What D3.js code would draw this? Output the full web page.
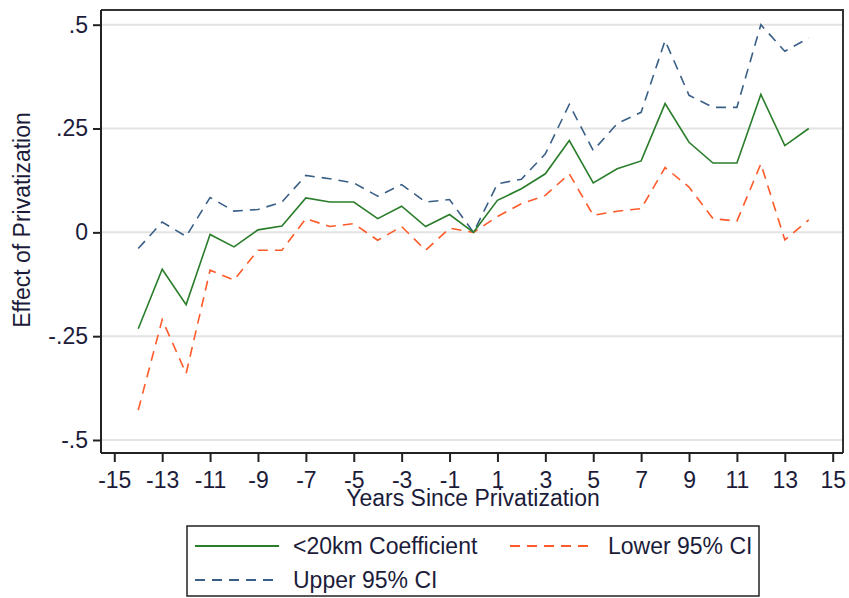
<!DOCTYPE html>
<html lang="en">
<head>
    <meta charset="UTF-8">
    <title>Effect of Privatization</title>
    <script src="https://d3js.org/d3.v7.min.js"></script>
    <style>
        body { margin: 0; background: #fff; }
        svg { display: block; font-family: "Liberation Sans", Arial, sans-serif; }
        .grid line { stroke: #e3e3e3; stroke-width: 2px; }
        .axis path, .axis line { stroke: #222; stroke-width: 2px; }
        .axis text { font-size: 23px; fill: #1c1c3a; }
        .label { font-size: 23px; fill: #1c1c3a; }
    </style>
</head>
<body>
    <div id="chart"></div>
    <script>
        const years = [-14, -13, -12, -11, -10, -9, -8, -7, -6, -5, -4, -3, -2, -1, 0,
                       1, 2, 3, 4, 5, 6, 7, 8, 9, 10, 11, 12, 13, 14];
        const coef = [-0.232, -0.089, -0.174, -0.005, -0.035, 0.006, 0.015, 0.083, 0.073, 0.073,
                      0.033, 0.063, 0.014, 0.043, 0.0,
                      0.077, 0.105, 0.141, 0.221, 0.119, 0.153, 0.172, 0.310, 0.217, 0.167,
                      0.167, 0.332, 0.209, 0.250];
        const lower = [-0.428, -0.210, -0.340, -0.091, -0.115, -0.043, -0.043, 0.033, 0.014, 0.021,
                       -0.019, 0.014, -0.043, 0.010, 0.0,
                       0.038, 0.069, 0.089, 0.141, 0.041, 0.051, 0.057, 0.156, 0.109, 0.033,
                       0.027, 0.165, -0.018, 0.030];
        const upper = [-0.039, 0.025, -0.010, 0.084, 0.051, 0.055, 0.073, 0.137, 0.129, 0.119,
                       0.087, 0.115, 0.073, 0.079, 0.0,
                       0.117, 0.128, 0.189, 0.308, 0.197, 0.262, 0.289, 0.462, 0.330, 0.301,
                       0.301, 0.500, 0.436, 0.468];
        const xTicks = [-15, -13, -11, -9, -7, -5, -3, -1, 1, 3, 5, 7, 9, 11, 13, 15];
        const yTicks = [-0.5, -0.25, 0, 0.25, 0.5];
        const yTickLabels = ["-.5", "-.25", "0", ".25", ".5"];

        const width = 849, height = 598;
        const plot = {left: 101, right: 843, top: 10, bottom: 453};

        const svg = d3.select("#chart").append("svg")
            .attr("width", width)
            .attr("height", height);

        const x = d3.scaleLinear().domain([-15.555, 15.43]).range([plot.left, plot.right]);
        const y = d3.scaleLinear().domain([-0.5313, 0.5354]).range([plot.bottom, plot.top]);

        // horizontal grid
        svg.append("g").attr("class", "grid")
            .selectAll("line").data(yTicks).enter().append("line")
            .attr("x1", plot.left).attr("x2", plot.right)
            .attr("y1", d => y(d)).attr("y2", d => y(d));

        // frame (top and right)
        svg.append("path")
            .attr("d", `M${plot.left},${plot.top}H${plot.right}V${plot.bottom}`)
            .attr("fill", "none").attr("stroke", "#333").attr("stroke-width", 2);

        const series = [
            {name: "<20km Coefficient", values: coef, color: "#2a7d2a", dash: null},
            {name: "Lower 95% CI", values: lower, color: "#ff5a2a", dash: "10,7"},
            {name: "Upper 95% CI", values: upper, color: "#3a5f87", dash: "10,7"}
        ];

        const line = d3.line()
            .x((d, i) => x(years[i]))
            .y(d => y(d));

        // draw CIs first, coefficient on top
        [series[2], series[1], series[0]].forEach(s => {
            svg.append("path")
                .datum(s.values)
                .attr("fill", "none")
                .attr("stroke", s.color)
                .attr("stroke-width", 1.6)
                .attr("stroke-dasharray", s.dash)
                .attr("d", line);
        });

        // axes
        svg.append("g").attr("class", "axis")
            .attr("transform", `translate(${plot.left},0)`)
            .call(d3.axisLeft(y).tickValues(yTicks).tickSize(8).tickPadding(5)
                .tickFormat((d, i) => yTickLabels[i]))
            .call(g => g.select(".domain").attr("d", `M0,${plot.top}V${plot.bottom}`));

        svg.append("g").attr("class", "axis")
            .attr("transform", `translate(0,${plot.bottom})`)
            .call(d3.axisBottom(x).tickValues(xTicks).tickSize(9).tickPadding(10)
                .tickFormat(d => d < 0 ? "-" + Math.abs(d) : d))
            .call(g => g.select(".domain").attr("d", `M${plot.left},0H${plot.right}`));

        // axis titles
        svg.append("text").attr("class", "label")
            .attr("x", 473).attr("y", 506)
            .attr("text-anchor", "middle")
            .text("Years Since Privatization");

        svg.append("text").attr("class", "label")
            .attr("transform", "translate(30,220) rotate(-90)")
            .attr("text-anchor", "middle")
            .text("Effect of Privatization");

        // legend
        const legend = svg.append("g");
        legend.append("rect")
            .attr("x", 187).attr("y", 526)
            .attr("width", 572).attr("height", 70)
            .attr("fill", "#fff").attr("stroke", "#222").attr("stroke-width", 1.5);

        const legendPos = [
            {x: 195, y: 546},
            {x: 510, y: 546},
            {x: 195, y: 580}
        ];
        series.forEach((s, i) => {
            const p = legendPos[i];
            legend.append("line")
                .attr("x1", p.x).attr("x2", p.x + 84)
                .attr("y1", p.y).attr("y2", p.y)
                .attr("stroke", s.color).attr("stroke-width", 1.8)
                .attr("stroke-dasharray", s.dash);
            legend.append("text").attr("class", "label")
                .attr("x", p.x + 98).attr("y", p.y)
                .attr("dy", "0.35em")
                .text(s.name);
        });
    </script>
</body>
</html>
